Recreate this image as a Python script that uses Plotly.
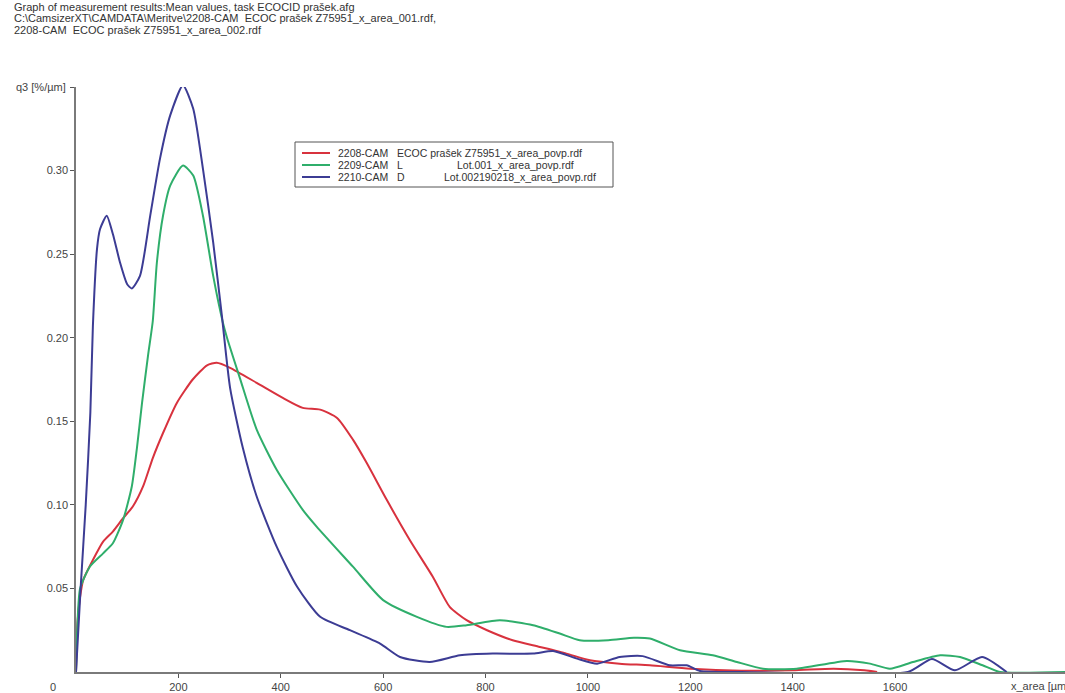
import plotly.graph_objects as go

# ---------------- data ----------------
series_names = [
    "2208-CAM ECOC prašek Z75951_x_area_povp.rdf",
    "2209-CAM L Lot.001_x_area_povp.rdf",
    "2210-CAM D Lot.002190218_x_area_povp.rdf",
]
legend_id = ["2208-CAM", "2209-CAM", "2210-CAM"]
legend_sample = ["ECOC prašek Z75951_x_area_povp.rdf", "L", "D"]
legend_file = ["", "Lot.001_x_area_povp.rdf", "Lot.002190218_x_area_povp.rdf"]

red_x = [0, 3, 8, 14, 33, 53, 72, 92, 111, 131, 150, 170, 197, 228, 256, 275, 301, 353, 404,
         443, 477, 510, 541, 568, 607, 652, 697, 730, 763, 803, 853, 906, 958, 1004, 1062,
         1121, 1200, 1300, 1400, 1480, 1540, 1565]
red_y = [0, 0.03, 0.045, 0.055, 0.067, 0.078, 0.084, 0.092, 0.099, 0.111, 0.128, 0.143, 0.161,
         0.175, 0.1835, 0.185, 0.182, 0.173, 0.164, 0.158, 0.157, 0.152, 0.139, 0.125, 0.103,
         0.079, 0.057, 0.039, 0.031, 0.025, 0.019, 0.015, 0.011, 0.007, 0.005, 0.004, 0.002,
         0.0008, 0.001, 0.002, 0.001, 0]

green_x = [0, 3, 8, 27, 53, 72, 92, 109, 119, 129, 141, 150, 158, 170, 184, 209, 229, 248, 268,
           287, 295, 320, 353, 392, 443, 470, 541, 600, 666, 724, 763, 828, 893, 945, 984, 1040,
           1090, 1121, 1180, 1244, 1291, 1342, 1408, 1506, 1551, 1590, 1635, 1688, 1727, 1771,
           1805, 1932]
green_y = [0, 0.03, 0.05, 0.063, 0.071, 0.077, 0.091, 0.111, 0.134, 0.161, 0.19, 0.21, 0.245,
           0.273, 0.291, 0.303, 0.297, 0.273, 0.237, 0.209, 0.2, 0.176, 0.145, 0.121, 0.097,
           0.087, 0.063, 0.043, 0.033, 0.027, 0.028, 0.031, 0.028, 0.023, 0.019, 0.019, 0.0205,
           0.02, 0.013, 0.01, 0.006, 0.002, 0.002, 0.0066, 0.005, 0.002, 0.006, 0.01, 0.009,
           0.004, 0, 0]

blue_x = [0, 9, 19, 28, 33, 41, 47, 60, 72, 86, 100, 109, 125, 145, 164, 184, 209, 229, 248,
          268, 285, 301, 326, 353, 392, 432, 477, 535, 594, 633, 691, 750, 814, 893, 932, 979,
          1018, 1062, 1107, 1160, 1193, 1219, 1300, 1625, 1672, 1717, 1770, 1818]
blue_y = [0, 0.05, 0.10, 0.155, 0.207, 0.253, 0.265, 0.273, 0.262, 0.245, 0.232, 0.2295, 0.237,
          0.273, 0.307, 0.333, 0.351, 0.337, 0.301, 0.257, 0.213, 0.170, 0.134, 0.105, 0.075,
          0.051, 0.033, 0.025, 0.017, 0.009, 0.006, 0.010, 0.011, 0.011, 0.0125, 0.008, 0.005,
          0.009, 0.0095, 0.004, 0.004, 0.0006, 0, 0, 0.0078, 0.001, 0.009, 0]

x_tick_vals = [200, 400, 600, 800, 1000, 1200, 1400, 1600, 1830]
x_tick_text = ["200", "400", "600", "800", "1000", "1200", "1400", "1600", ""]
y_tick_vals = [0.05, 0.10, 0.15, 0.20, 0.25, 0.30, 0.35]
y_tick_text = ["0.05", "0.10", "0.15", "0.20", "0.25", "0.30", ""]

title_lines = [
    "Graph of measurement results:Mean values, task ECOCID prašek.afg",
    r"C:\CamsizerXT\CAMDATA\Meritve\2208-CAM  ECOC prašek Z75951_x_area_001.rdf,",
    "2208-CAM  ECOC prašek Z75951_x_area_002.rdf",
]

RED = "#d8323e"
GREEN = "#2fae6b"
BLUE = "#3c3c94"
colors = [RED, GREEN, BLUE]
FONT = "Liberation Sans, Arial, sans-serif"
TXT = "#444444"
FS = 11

# plot-area geometry (pixels)
L, T, B = 76, 87, 21
W, H = 1065, 693
PW, PH = W - L, H - T - B


def px(xp):
    return (xp - L) / PW


def py(yp):
    return (H - B - yp) / PH


fig = go.Figure()
for name, xs, ys, col in zip(series_names, [red_x, green_x, blue_x],
                             [red_y, green_y, blue_y], colors):
    fig.add_trace(go.Scatter(x=xs, y=ys, mode="lines", name=name, showlegend=False,
                             line=dict(color=col, width=2, shape="spline", smoothing=0.6),
                             cliponaxis=False))

fig.update_layout(
    width=W, height=H,
    margin=dict(l=L, r=0, t=T, b=B, pad=0),
    paper_bgcolor="white", plot_bgcolor="white",
    font=dict(family=FONT, size=FS, color=TXT),
    xaxis=dict(range=[0, 1932], showgrid=False, zeroline=False,
               showline=True, linecolor="#7a7a7a", linewidth=1.5,
               ticks="outside", ticklen=4, tickcolor="#555555",
               tickvals=x_tick_vals, ticktext=x_tick_text,
               tickfont=dict(size=FS, color=TXT)),
    yaxis=dict(range=[0, 0.35], showgrid=False, zeroline=False,
               showline=True, linecolor="#7a7a7a", linewidth=1.5,
               ticks="outside", ticklen=4, tickcolor="#555555",
               tickvals=y_tick_vals, ticktext=y_tick_text,
               tickfont=dict(size=FS, color=TXT)),
)

# header text
for i, line in enumerate(title_lines):
    fig.add_annotation(text=line.replace("  ", "\u00a0\u00a0"), xref="paper", yref="paper",
                       x=px(12), y=py(7 + 11.5 * i),
                       xanchor="left", yanchor="middle", showarrow=False,
                       font=dict(family=FONT, size=FS, color="#333333"))

# axis captions
fig.add_annotation(text="q3 [%/µm]", xref="paper", yref="y", x=0, y=0.35,
                   xanchor="right", yanchor="middle", showarrow=False, xshift=-8,
                   font=dict(family=FONT, size=FS, color=TXT))
fig.add_annotation(text="0", xref="paper", yref="paper", x=0, y=0,
                   xanchor="center", yanchor="top", showarrow=False, xshift=-23, yshift=-7,
                   font=dict(family=FONT, size=FS, color=TXT))
fig.add_annotation(text="x_area [µm]", xref="x", yref="paper", x=1830, y=0,
                   xanchor="left", yanchor="top", showarrow=False, xshift=-4, yshift=-6,
                   font=dict(family=FONT, size=FS, color=TXT))

# legend box (drawn as shapes + text)
box_l, box_r, box_t, box_b = 295, 613, 142, 187
fig.add_shape(type="rect", xref="paper", yref="paper",
              x0=px(box_l), x1=px(box_r), y0=py(box_b), y1=py(box_t),
              line=dict(color="#555555", width=1), fillcolor="white", layer="above")
row_y = [153, 165, 177]
col_x = [336, 395]
file_x = [None, 455, 442]
for i in range(3):
    fig.add_shape(type="line", xref="paper", yref="paper",
                  x0=px(302), x1=px(330), y0=py(row_y[i]), y1=py(row_y[i]),
                  line=dict(color=colors[i], width=2), layer="above")
    fig.add_annotation(text=legend_id[i], xref="paper", yref="paper",
                       x=px(col_x[0]), y=py(row_y[i]), xanchor="left", yanchor="middle",
                       showarrow=False, font=dict(family=FONT, size=FS - 0.5, color="#333333"))
    fig.add_annotation(text=legend_sample[i], xref="paper", yref="paper",
                       x=px(col_x[1]), y=py(row_y[i]), xanchor="left", yanchor="middle",
                       showarrow=False, font=dict(family=FONT, size=FS - 0.5, color="#333333"))
    if legend_file[i]:
        fig.add_annotation(text=legend_file[i], xref="paper", yref="paper",
                           x=px(file_x[i]), y=py(row_y[i]),
                           xanchor="left", yanchor="middle", showarrow=False,
                           font=dict(family=FONT, size=FS - 0.5, color="#333333"))

fig.write_html("out.html", config={"displayModeBar": False},
               post_script="document.body.style.margin='0px';")
